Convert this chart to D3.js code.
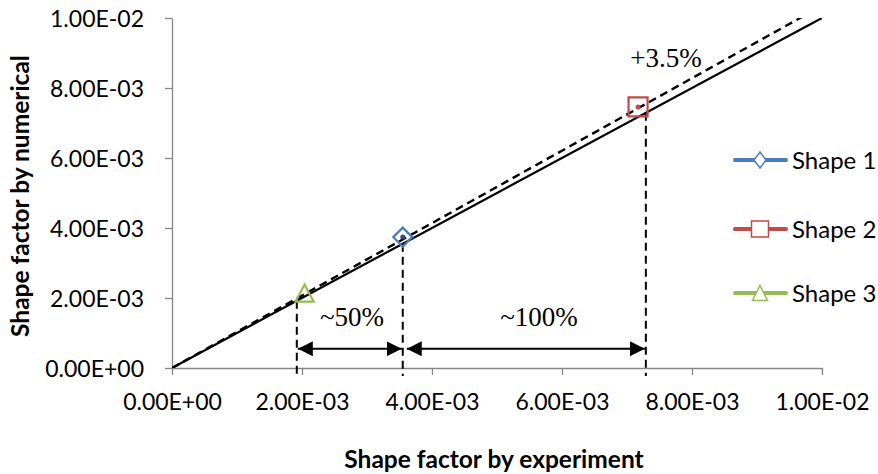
<!DOCTYPE html>
<html><head><meta charset="utf-8">
<script src="https://cdn.jsdelivr.net/npm/d3@7"></script>
<style>body{margin:0;background:#fff}</style>
</head><body>
<svg id="c" width="878" height="474"></svg>
<script>
const seriesNames = ["Shape 1", "Shape 2", "Shape 3"];
const seriesColors = ["#4a7ebb", "#be4b48", "#98b954"];
const seriesShapes = ["diamond", "square", "triangle"];
const expValues = [0.00355, 0.00717, 0.00204];
const numValues = [0.00374, 0.00746, 0.00214];
const xTicks = [0, 0.002, 0.004, 0.006, 0.008, 0.01];
const yTicks = [0, 0.002, 0.004, 0.006, 0.008, 0.01];
const refLineX = [0, 0.01];
const fitSlope = 1.035;
const guideX = [0.00192, 0.00355, 0.00729];
const arrowY = 0.00055;
const arrowLabels = ["~50%", "~100%"];
const fitLabel = "+3.5%";

const svg = d3.select("#c");
const x = d3.scaleLinear().domain([0, 0.01]).range([172, 822]);
const y = d3.scaleLinear().domain([0, 0.01]).range([368, 18]);
const fmt = v => { const s = v.toExponential(2).toUpperCase(); return s.replace(/E([+-])(\d)$/, "E$10$2"); };
const sans = "Lato, 'Open Sans', sans-serif";
const serif = "'Liberation Serif', 'Times New Roman', serif";

const defs = svg.append("defs");
defs.append("clipPath").attr("id","clip").append("rect")
  .attr("x",172).attr("y",18).attr("width",650).attr("height",350);

// axes
const xa = svg.append("g").attr("transform","translate(0,368)")
  .call(d3.axisBottom(x).tickValues(xTicks).tickFormat(fmt).tickSizeInner(7).tickSizeOuter(0));
xa.selectAll("text").attr("dy", null).attr("y", 42);
const ya = svg.append("g").attr("transform","translate(172,0)")
  .call(d3.axisLeft(y).tickValues(yTicks).tickFormat(fmt).tickSizeInner(7).tickSizeOuter(0).tickPadding(21));
ya.selectAll("text").attr("dy", "0.36em");
[xa, ya].forEach(a => {
  a.selectAll("path,line").attr("stroke","#868686").attr("stroke-width",1.3);
  a.selectAll("text").attr("font-family",sans).attr("font-size",23).attr("fill","#000");
});

const plot = svg.append("g").attr("clip-path","url(#clip)");
// 1:1 line
plot.append("line").attr("x1",x(refLineX[0])).attr("y1",y(refLineX[0])).attr("x2",x(refLineX[1])).attr("y2",y(refLineX[1]))
  .attr("stroke","#000").attr("stroke-width",2.2);
// fit dashed
plot.append("line").attr("x1",x(refLineX[0])).attr("y1",y(0)).attr("x2",x(refLineX[1])).attr("y2",y(refLineX[1]*fitSlope))
  .attr("stroke","#000").attr("stroke-width",2.4).attr("stroke-dasharray","8,5");

// vertical guides
guideX.forEach(g => {
  svg.append("line").attr("x1",x(g)).attr("x2",x(g)).attr("y1",y(g)).attr("y2",y(0)+8)
    .attr("stroke","#000").attr("stroke-width",2).attr("stroke-dasharray","8,5");
});

// arrows
defs.append("marker").attr("id","ah").attr("viewBox","0 0 10 10").attr("refX",10).attr("refY",5)
  .attr("markerUnits","userSpaceOnUse").attr("orient","auto-start-reverse")
  .attr("markerWidth",15).attr("markerHeight",15)
  .append("path").attr("d","M0,0L10,5L0,10Z").attr("fill","#000");
const labelX = [352, 539];
for (let i = 0; i < 2; i++) {
  const x1 = x(guideX[i]) + 1, x2 = x(guideX[i+1]) - 1;
  svg.append("line").attr("x1",x1+ (i===1?3:0)).attr("x2",x2).attr("y1",y(arrowY)).attr("y2",y(arrowY))
    .attr("stroke","#000").attr("stroke-width",2)
    .attr("marker-start","url(#ah)").attr("marker-end","url(#ah)");
  svg.append("text").attr("x",labelX[i]).attr("y",326).attr("text-anchor","middle")
    .attr("font-family",serif).attr("font-size",27).text(arrowLabels[i]);
}
svg.append("text").attr("x",666).attr("y",67).attr("text-anchor","middle")
  .attr("font-family",serif).attr("font-size",27).text(fitLabel);

function markerPath(shape, w, h) {
  const a = w/2, b = h/2;
  if (shape === "diamond") return `M0,${-b}L${a},0L0,${b}L${-a},0Z`;
  if (shape === "square") return `M${-a},${-b}H${a}V${b}H${-a}Z`;
  return `M0,${-b}L${a},${b}L${-a},${b}Z`;
}
// data markers
const mW = [19, 19, 18], mH = [19, 19, 17];
seriesNames.forEach((n, i) => {
  const g = svg.append("g").attr("transform",`translate(${x(expValues[i])},${y(numValues[i])})`);
  g.append("path").attr("d", markerPath(seriesShapes[i], mW[i], mH[i]))
    .attr("fill","none").attr("stroke",seriesColors[i]).attr("stroke-width",2.2);
  if (i < 2) g.append("circle").attr("r",2.5).attr("fill", i===0 ? "#2c4f7c" : seriesColors[i]);
});

// legend
const legY = [160, 229, 293];
const lW = [12, 17, 15], lH = [16, 16, 15];
seriesNames.forEach((n, i) => {
  const g = svg.append("g").attr("transform",`translate(0,${legY[i]})`);
  g.append("line").attr("x1",735).attr("x2",786).attr("stroke",seriesColors[i]).attr("stroke-width",4).attr("stroke-linecap","round");
  g.append("path").attr("transform","translate(760,0)").attr("d", markerPath(seriesShapes[i], lW[i], lH[i]))
    .attr("fill","#fff").attr("stroke",seriesColors[i]).attr("stroke-width",1.5);
  g.append("text").attr("x",792).attr("y",8.5).attr("font-family",sans).attr("font-size",24).text(n);
});

// axis titles
svg.append("text").attr("x",494).attr("y",468).attr("text-anchor","middle")
  .attr("font-family",sans).attr("font-weight","bold").attr("font-size",24.5).text("Shape factor by experiment");
svg.append("text").attr("transform","translate(29,196) rotate(-90)").attr("text-anchor","middle")
  .attr("font-family",sans).attr("font-weight","bold").attr("font-size",24.5).text("Shape factor by numerical");
</script>
</body></html>
